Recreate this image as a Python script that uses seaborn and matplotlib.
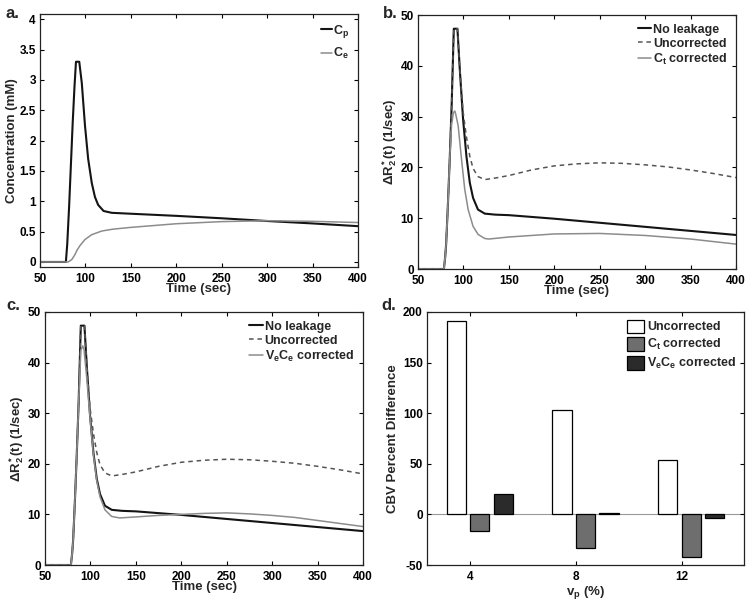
import numpy as np
import pandas as pd
import matplotlib
matplotlib.use("Agg")
import matplotlib.pyplot as plt
from matplotlib.ticker import FuncFormatter
import seaborn as sns

# panel a: concentration curves
t_cp = [50, 78.5, 80, 82, 84, 86, 88, 89.6, 93.2, 96, 99.5, 103, 107, 110.5, 114, 120, 129, 150, 200, 250, 300, 350, 400]
v_cp = [0, 0, 0.3, 0.9, 1.6, 2.3, 2.9, 3.3, 3.3, 2.95, 2.25, 1.7, 1.3, 1.07, 0.94, 0.84, 0.81, 0.795, 0.76, 0.72, 0.675, 0.635, 0.59]
t_ce = [50, 81, 85, 88, 91, 94, 99.5, 107, 118, 130, 150, 175, 200, 250, 300, 350, 400]
v_ce = [0, 0, 0.04, 0.11, 0.2, 0.27, 0.37, 0.45, 0.51, 0.54, 0.57, 0.60, 0.63, 0.665, 0.68, 0.67, 0.65]

# panels b, c: delta R2* curves
t_noleak = [50, 78.5, 80, 81, 83, 85, 87, 89.4, 93.4, 96, 99.6, 103.3, 107, 110.6, 116, 123.5, 135, 150, 200, 250, 300, 350, 400]
v_noleak = [0, 0, 2.5, 5, 13, 22, 32, 47.3, 47.3, 39.3, 29.5, 22.2, 17, 14, 11.7, 10.9, 10.7, 10.6, 9.9, 9.1, 8.3, 7.5, 6.7]
t_uncorr = [50, 78.5, 80, 81, 83, 85, 87, 89.4, 93.4, 96, 99.6, 103.3, 107, 110.6, 116, 123.5, 135, 150, 175, 200, 225, 250, 275, 300, 325, 350, 375, 400]
v_uncorr = [0, 0, 2.5, 5, 13, 22, 32, 47.3, 47.3, 39.5, 31, 26, 22.2, 19.8, 18.2, 17.6, 17.9, 18.4, 19.5, 20.3, 20.7, 20.9, 20.8, 20.5, 20.1, 19.5, 18.8, 18.0]
t_ct = [50, 78.5, 80, 81, 83, 85, 87, 89, 90.5, 91.5, 94.2, 97.9, 101.5, 105.2, 110.6, 116.2, 123.5, 128, 150, 200, 250, 300, 350, 400]
v_ct = [0, 0, 2.5, 5, 13, 22, 28.5, 30.8, 31.1, 30.5, 28.2, 21.6, 15.6, 11.7, 8.4, 6.8, 6.0, 5.9, 6.3, 6.9, 7.0, 6.6, 5.9, 4.9]
t_vece = [50, 78.5, 80, 81, 83, 85, 87, 89.5, 91.5, 93, 95.8, 99.5, 103.1, 106.8, 110.5, 116, 123.3, 132, 150, 175, 200, 225, 250, 275, 300, 325, 350, 375, 400]
v_vece = [0, 0, 2.5, 5, 13, 22, 32, 42.5, 43.3, 42.5, 37.2, 29.3, 22.1, 16.8, 13.5, 10.9, 9.6, 9.3, 9.5, 9.8, 10.0, 10.2, 10.3, 10.1, 9.8, 9.4, 8.8, 8.2, 7.6]

# panel d: CBV percent difference
vp_labels = ["4", "8", "12"]
series_names = ["Uncorrected", "C$_t$ corrected", "V$_e$C$_e$ corrected"]
cbv_uncorr = [191, 103.5, 53.5]
cbv_ct = [-16.5, -33, -42.5]
cbv_vece = [20, 1.5, -4]

BLACK = "#141414"
GRAY = "#8c8c8c"
DASH = "#555555"

sns.set_theme(context="paper", style="ticks")
plt.rcParams["font.family"] = ["Liberation Sans", "DejaVu Sans"]
plt.rcParams["font.weight"] = "bold"
plt.rcParams["axes.labelweight"] = "bold"
plt.rcParams["mathtext.fontset"] = "custom"
plt.rcParams["mathtext.rm"] = "Liberation Sans:bold"
plt.rcParams["mathtext.it"] = "Liberation Sans:bold"
plt.rcParams["mathtext.bf"] = "Liberation Sans:bold"
plt.rcParams["mathtext.default"] = "rm"

fig = plt.figure(figsize=(7.5, 6.04), dpi=100)
ax_a = fig.add_axes([40 / 750, 1 - 267 / 604, 318 / 750, 253 / 604])
ax_b = fig.add_axes([418 / 750, 1 - 269 / 604, 318 / 750, 254 / 604])
ax_c = fig.add_axes([45 / 750, 1 - 565 / 604, 318 / 750, 253 / 604])
ax_d = fig.add_axes([427 / 750, 1 - 565 / 604, 317 / 750, 253 / 604])

fmt = FuncFormatter(lambda v, p: "%g" % v)


def style_axes(ax):
    ax.tick_params(direction="in", top=True, right=True, length=3, width=0.8,
                   labelsize=8.5, colors="black", pad=3)
    ax.tick_params(axis="x", pad=4.2)
    for s in ax.spines.values():
        s.set_linewidth(0.9)
        s.set_color("#222222")
        s.set_visible(True)
    ax.yaxis.set_major_formatter(fmt)


# a.
sns.lineplot(x=t_cp, y=v_cp, ax=ax_a, color=BLACK, lw=1.5, label="C$_p$")
sns.lineplot(x=t_ce, y=v_ce, ax=ax_a, color=GRAY, lw=1.1, label="C$_e$")
ax_a.set_xlim(50, 400)
ax_a.set_ylim(-0.083, 4.087)
ax_a.set_yticks(np.arange(0, 4.01, 0.5))
ax_a.set_xticks(range(50, 401, 50))
ax_a.set_xlabel("Time (sec)", fontsize=9.5, labelpad=-1)
ax_a.set_ylabel("Concentration (mM)", fontsize=9.5, labelpad=1)
style_axes(ax_a)
ax_a.legend(loc="upper right", frameon=False, fontsize=9, handlelength=0.9,
            handletextpad=0.1, labelspacing=0.5, borderaxespad=0.3)

# b. and c.
for ax, name, t3, v3 in [(ax_b, "C$_t$ corrected", t_ct, v_ct),
                         (ax_c, "V$_e$C$_e$ corrected", t_vece, v_vece)]:
    sns.lineplot(x=t_noleak, y=v_noleak, ax=ax, color=BLACK, lw=1.5, label="No leakage")
    sns.lineplot(x=t_uncorr, y=v_uncorr, ax=ax, color=DASH, lw=1.1,
                 linestyle=(0, (3, 2.5)), label="Uncorrected")
    sns.lineplot(x=t3, y=v3, ax=ax, color=GRAY, lw=1.1, label=name)
    ax.set_xlim(50, 400)
    ax.set_ylim(0, 50)
    ax.set_xticks(range(50, 401, 50))
    ax.set_yticks(range(0, 51, 10))
    ax.set_xlabel("Time (sec)", fontsize=9.5, labelpad=-1)
    ax.set_ylabel("ΔR$_2^*$(t) (1/sec)", fontsize=9.5, labelpad=1)
    style_axes(ax)
    ax.legend(loc="upper right", frameon=False, fontsize=9, handlelength=1.1,
              handletextpad=0.15, labelspacing=0.15, borderaxespad=0.3)

# d.
df_bar = pd.DataFrame({
    "vp": vp_labels * 3,
    "series": [series_names[0]] * 3 + [series_names[1]] * 3 + [series_names[2]] * 3,
    "value": cbv_uncorr + cbv_ct + cbv_vece,
})
ax_d.axhline(0, color="#999999", lw=0.8, zorder=0)
sns.barplot(data=df_bar, x="vp", y="value", hue="series", order=vp_labels,
            hue_order=series_names, palette=["white", "#6e6e6e", "#2b2b2b"],
            width=0.667, gap=0.19, edgecolor="black", linewidth=0.9,
            saturation=1, errorbar=None, ax=ax_d)
ax_d.set_xlim(-0.5, 2.5)
ax_d.set_ylim(-50, 200)
ax_d.set_yticks(range(-50, 201, 50))
ax_d.set_xticks([i - 0.09 for i in range(3)], labels=vp_labels)
ax_d.set_xlabel("v$_p$ (%)", fontsize=9.5, labelpad=0.5)
ax_d.set_ylabel("CBV Percent Difference", fontsize=9.5, labelpad=3)
style_axes(ax_d)
sns.move_legend(ax_d, "upper right", bbox_to_anchor=(1.0, 1.0), frameon=False,
                title=None, fontsize=9, handlelength=1.4, handleheight=1.3,
                handletextpad=0.2, labelspacing=0.3, borderaxespad=0.2)

for x, y, s in [(6, 18, "a."), (383, 18, "b."), (6, 310, "c."), (381, 310, "d.")]:
    fig.text(x / 750, 1 - y / 604, s, fontsize=12, fontweight="bold", va="baseline")

fig.savefig("out.png", dpi=100)
